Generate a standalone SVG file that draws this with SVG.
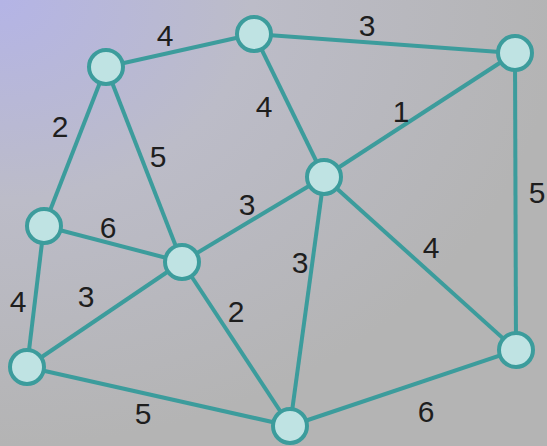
<svg xmlns="http://www.w3.org/2000/svg" width="547" height="446" viewBox="0 0 547 446">
<defs>
<radialGradient id="bg" cx="0" cy="0" r="1" gradientUnits="userSpaceOnUse" gradientTransform="translate(0,0) scale(560,446)">
<stop offset="0" stop-color="#b4b4e6"/>
<stop offset="0.45" stop-color="#bcbcc8"/>
<stop offset="1" stop-color="#b4b4b4"/>
</radialGradient>
<style>
.e{stroke:#3c9c9c;stroke-width:4;fill:none}
.n{fill:#bfe3e3;stroke:#3c9c9c;stroke-width:4}
.l{font-family:"Liberation Sans",Arial,sans-serif;font-size:30px;fill:#1e1e1e;text-anchor:middle}
</style>
</defs>
<rect width="547" height="446" fill="url(#bg)"/>
<g id="connectors">
<line class="e" x1="106" y1="67" x2="254" y2="34"/>
<line class="e" x1="254" y1="34" x2="515" y2="53"/>
<line class="e" x1="106" y1="67" x2="44" y2="226"/>
<line class="e" x1="106" y1="67" x2="182" y2="262"/>
<line class="e" x1="254" y1="34" x2="324" y2="177"/>
<line class="e" x1="324" y1="177" x2="515" y2="53"/>
<line class="e" x1="515" y1="53" x2="516" y2="350"/>
<line class="e" x1="44" y1="226" x2="182" y2="262"/>
<line class="e" x1="182" y1="262" x2="324" y2="177"/>
<line class="e" x1="44" y1="226" x2="27" y2="367"/>
<line class="e" x1="27" y1="367" x2="182" y2="262"/>
<line class="e" x1="182" y1="262" x2="290" y2="426"/>
<line class="e" x1="324" y1="177" x2="290" y2="426"/>
<line class="e" x1="324" y1="177" x2="516" y2="350"/>
<line class="e" x1="27" y1="367" x2="290" y2="426"/>
<line class="e" x1="290" y1="426" x2="516" y2="350"/>
</g>
<g id="labels">
<text class="l" x="165" y="46">4</text>
<text class="l" x="367" y="36">3</text>
<text class="l" x="60" y="137">2</text>
<text class="l" x="158" y="167">5</text>
<text class="l" x="264" y="117">4</text>
<text class="l" x="401" y="122">1</text>
<text class="l" x="537" y="203">5</text>
<text class="l" x="108" y="238">6</text>
<text class="l" x="247" y="215">3</text>
<text class="l" x="18" y="312">4</text>
<text class="l" x="86" y="307">3</text>
<text class="l" x="236" y="322">2</text>
<text class="l" x="300" y="273">3</text>
<text class="l" x="431" y="258">4</text>
<text class="l" x="143" y="424">5</text>
<text class="l" x="426" y="422">6</text>
</g>
<g id="nA"><circle class="n" cx="106" cy="67" r="17"/></g>
<g id="nB"><circle class="n" cx="254" cy="34" r="17"/></g>
<g id="nC"><circle class="n" cx="515" cy="53" r="17"/></g>
<g id="nD"><circle class="n" cx="44" cy="226" r="17"/></g>
<g id="nE"><circle class="n" cx="182" cy="262" r="17"/></g>
<g id="nF"><circle class="n" cx="324" cy="177" r="17"/></g>
<g id="nG"><circle class="n" cx="27" cy="367" r="17"/></g>
<g id="nH"><circle class="n" cx="290" cy="426" r="17"/></g>
<g id="nI"><circle class="n" cx="516" cy="350" r="17"/></g>
</svg>
